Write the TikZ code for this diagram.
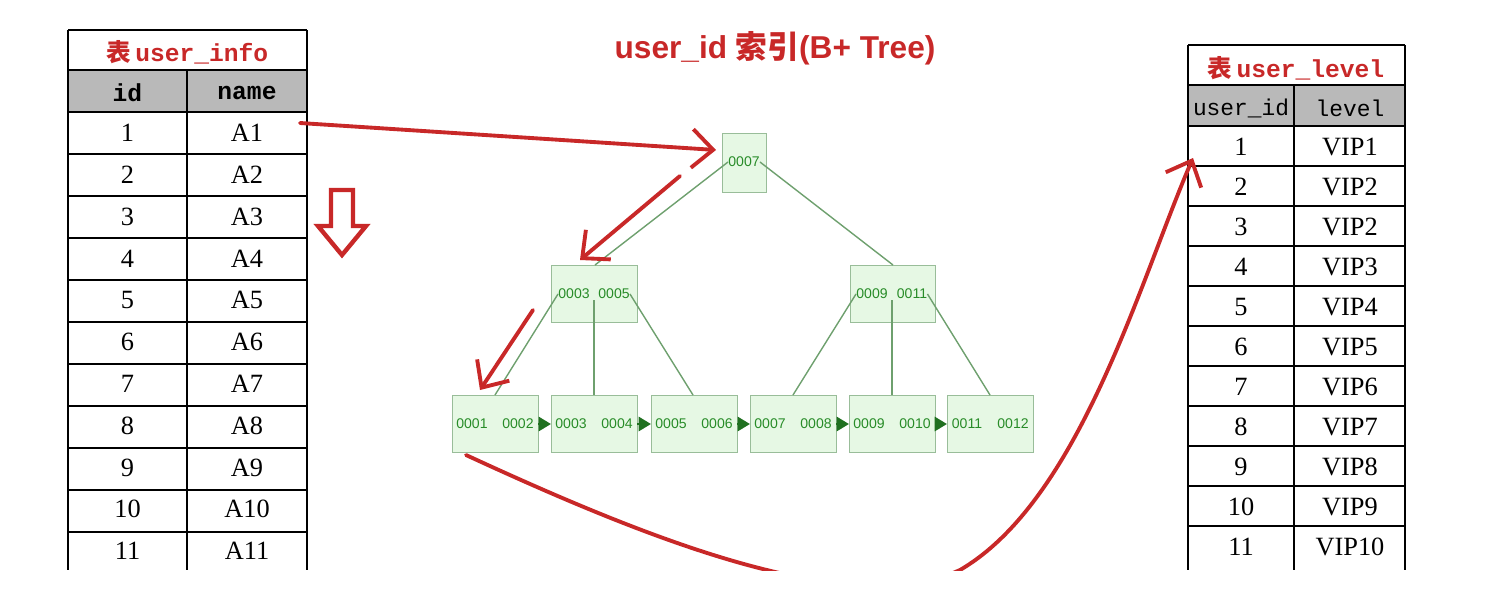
\documentclass[tikz,border=0pt]{standalone}
\usepackage{fontspec}
\setmainfont{Liberation Serif}
\newfontfamily\cjk{Noto Sans CJK SC}
\newfontfamily\monof{Liberation Mono}
\newfontfamily\sansf{Liberation Sans}
\usetikzlibrary{arrows.meta}
\definecolor{rd}{RGB}{200,40,40}
\definecolor{gfill}{RGB}{230,248,228}
\definecolor{gline}{RGB}{110,160,110}
\definecolor{gtext}{RGB}{40,140,40}
\tikzset{
  ttl/.style={font=\fontsize{14}{14}\selectfont\bfseries\color{rd}},
  dat/.style={font=\fontsize{15}{15}\selectfont},
  hdrf/.style={font=\monof\fontsize{13}{13}\selectfont},
  tlab/.style={inner sep=0pt,font=\sansf\fontsize{8}{8}\selectfont\color{gtext}},
  tboxd/.style={draw=gline!70,fill=gfill},
  tedge/.style={draw=gline,line width=0.8pt},
  redarr/.style={draw=rd,line width=2.2pt,line cap=round,-{Straight Barb[length=12pt,width=22pt,line width=2.2pt]}},
  garr/.style={draw=gtext!80!black,line width=1.5pt,-{Triangle[length=7pt,width=8pt]}}
}
\begin{document}
\begin{tikzpicture}[x=0.02cm,y=-0.02cm]
\useasboundingbox (0,0) rectangle (1492,613);
% left table
\node[ttl] (lt) at (187.5,52) {{\cjk 表}\,{\monof user\_info}};
\fill[gray!55] (68,70) rectangle (307,112);
\node[hdrf,font=\monof\bfseries\fontsize{14}{14}\selectfont] (lh1) at (127.5,93) {id};
\node[hdrf,font=\monof\bfseries\fontsize{14}{14}\selectfont] (lh2) at (247,93) {name};
\foreach \i in {1,...,11}{
  \pgfmathsetmacro\yy{112+(\i-1)*41.8}
  \node[dat] (la\i) at (127.5,\yy+21) {\i};
  \node[dat] (lb\i) at (247,\yy+21) {A\i};
}
\foreach \y in {30,70,112,154,196,238,280,322,364,406,448,490,532}{
  \draw[line width=1pt] (68,\y) -- (307,\y);}
\draw[line width=1pt] (68,30) -- (68,570) (187,70) -- (187,570) (307,30) -- (307,570);
% right table
\node[ttl] (rt) at (1296,68) {{\cjk 表}\,{\monof user\_level}};
\fill[gray!55] (1188,85) rectangle (1405,126);
\node[hdrf] (rh1) at (1241,108) {user\_id};
\node[hdrf] (rh2) at (1350,108) {level};
\foreach \i/\v in {1/1,2/2,3/2,4/3,5/4,6/5,7/6,8/7,9/8,10/9,11/10}{
  \pgfmathsetmacro\yy{126+(\i-1)*40}
  \node[dat] (ra\i) at (1241,\yy+21) {\i};
  \node[dat] (rb\i) at (1350,\yy+21) {VIP\v};
}
\foreach \y in {45,85,126,166,206,246,286,326,366,406,446,486,526}{
  \draw[line width=1pt] (1188,\y) -- (1405,\y);}
\draw[line width=1pt] (1188,45) -- (1188,570) (1294,85) -- (1294,570) (1405,45) -- (1405,570);
% title
\node[font=\sansf\bfseries\fontsize{18}{18}\selectfont\color{rd}] (title) at (775,48) {user\_id {\cjk\bfseries 索引}(B+ Tree)};
% tree
\draw[tboxd] (722,133) rectangle (766,192);
\node[tlab] (rootT) at (744,162) {0007};
\draw[tboxd] (551,265) rectangle (637,322);
\node[tlab] (a1) at (574,294) {0003};
\node[tlab] (a2) at (614,294) {0005};
\draw[tboxd] (850,265) rectangle (935,322);
\node[tlab] (b1) at (872,294) {0009};
\node[tlab] (b2) at (912,294) {0011};
\foreach \n/\x/\p/\q in {1/452/0001/0002,2/551/0003/0004,3/651/0005/0006,4/750/0007/0008,5/849/0009/0010,6/947/0011/0012}{
  \draw[tboxd] (\x,395) rectangle (\x+86,452);
  \node[tlab] (l\n a) at (\x+20,424) {\p};
  \node[tlab] (l\n b) at (\x+66,424) {\q};
  \coordinate (L\n w) at (\x,424);
  \coordinate (L\n e) at (\x+86,424);
}
\foreach \i/\j in {1/2,2/3,3/4,4/5,5/6}{ \draw[garr] (L\i e) -- (L\j w); }
\draw[tedge] (rootT.west) -- (595,265);
\draw[tedge] (rootT.east) -- (893,265);
\draw[tedge] (a1.west) -- (495,395);
\draw[tedge] (594,300) -- (594,395);
\draw[tedge] (a2.east) -- (693,395);
\draw[tedge] (b1.west) -- (793,395);
\draw[tedge] (892,300) -- (892,395);
\draw[tedge] (b2.east) -- (990,395);
% red arrows
\coordinate (s1) at (300,123); \coordinate (e1) at (716,150);
\draw[redarr] (s1) -- (e1);
\coordinate (s2) at (680,176); \coordinate (e2) at (580,260);
\draw[redarr] (s2) -- (e2);
\coordinate (s3) at (533,310); \coordinate (e3) at (480,390);
\draw[redarr] (s3) -- (e3);
\coordinate (s4) at (466,455); \coordinate (e4) at (1193,158);
\begin{scope}
\clip (0,0) rectangle (1492,570);
\draw[redarr] (s4) .. controls (650,540) and (850,620) .. (960,570) .. controls (1080,500) and (1140,280) .. (e4);
\end{scope}
% hollow down arrow
\draw[rd,line width=2.5pt,line join=miter] (331,190) -- (353,190) -- (353,226) -- (366,226) -- (342,255) -- (318,226) -- (331,226) -- cycle;
\end{tikzpicture}
\end{document}
